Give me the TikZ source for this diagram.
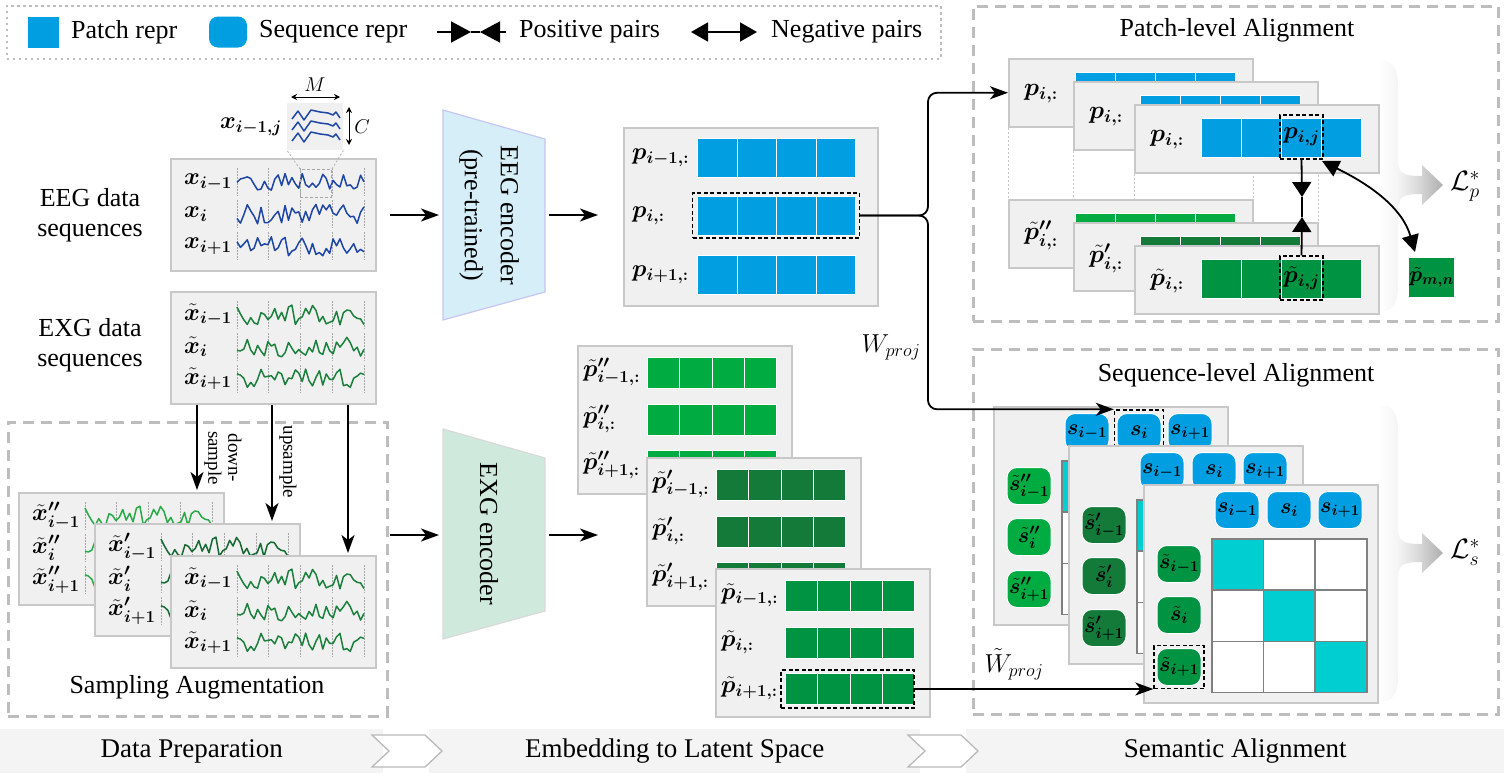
\documentclass[tikz,border=0pt]{standalone}
\usepackage{fix-cm}
\usepackage{amsmath,amssymb,bm}
\usepackage{fontspec}
\setmainfont{Liberation Serif}
\usetikzlibrary{arrows.meta,calc,shapes.geometric}
\pgfdeclarelayer{background}
\pgfsetlayers{background,main}

\definecolor{boxfill}{HTML}{F0F0F0}
\definecolor{boxedge}{HTML}{C8C8C8}
\definecolor{pblue}{RGB}{1,158,226}
\definecolor{gA}{RGB}{0,171,66}
\definecolor{gB}{RGB}{19,122,58}
\definecolor{gC}{RGB}{0,148,66}
\definecolor{wblue}{RGB}{30,70,165}
\definecolor{wgA}{RGB}{40,170,70}
\definecolor{wgB}{RGB}{20,105,50}
\definecolor{wgC}{RGB}{26,128,60}
\definecolor{cyanc}{RGB}{0,206,209}
\definecolor{regc}{HTML}{BDBDBD}
\definecolor{eegfill}{HTML}{D6EEF8}
\definecolor{eegedge}{HTML}{C6C6F2}
\definecolor{exgfill}{HTML}{CFEADD}
\definecolor{exgedge}{HTML}{D9D9D9}
\definecolor{barfill}{HTML}{F4F4F4}

\pgfdeclarehorizontalshading{gradsh}{100bp}{color(0bp)=(white); color(25bp)=(white); color(40bp)=(black!4); color(55bp)=(black!14); color(75bp)=(black!32); color(100bp)=(black!32)}

\tikzset{
  gbox/.style={draw=boxedge, fill=boxfill, line width=1.5pt, inner sep=0pt, anchor=north west},
  cellbox/.style={fill=#1, draw=white, line width=1pt, inner sep=0pt, anchor=north west},
  dbox/.style={draw=black, dash pattern=on 4pt off 2.5pt, line width=1.4pt, inner sep=0pt},
  region/.style={draw=regc, line width=2.5pt, dash pattern=on 11pt off 7pt, inner sep=0pt, anchor=north west},
  legendbox/.style={draw=regc, line width=1.5pt, dash pattern=on 2.5pt off 3.5pt, inner sep=0pt, anchor=north west},
  arr/.style={line width=1.8pt, -{Stealth[length=18pt,width=13pt,inset=5pt]}},
  lbl/.style={anchor=west, inner sep=0pt, font=\fontsize{24}{28}\selectfont},
  badge/.style={fill=#1, draw=white, line width=1pt, rounded corners=10pt, minimum width=44pt, minimum height=37pt, inner sep=0pt, font=\fontsize{21.5}{24}\selectfont},
  gcell/.style={draw=gray, line width=1.5pt, minimum width=51.67pt, minimum height=51.33pt, inner sep=0pt, anchor=north west},
  wave/.style={line width=1.5pt, line join=round},
  rtick/.style={draw=gray!70, line width=0.7pt, dash pattern=on 1.5pt off 1.5pt},
  tri/.style={line width=1.8pt, -{Triangle[length=15pt,width=19pt]}},
  dotl/.style={draw=gray!45, line width=1pt, dash pattern=on 2pt off 2pt},
}

\newcommand{\wavy}[6]{%
  \pgfmathsetseed{#6}%
  \pgfmathsetmacro\wva{#1}\pgfmathsetmacro\wvb{#2}\pgfmathsetmacro\wvy{#3}%
  \draw[wave,#5] plot[domain=\wva:\wvb,samples=38] (\x,{\wvy+#4*rand});%
}
\newcommand{\rowticks}[3]{%
  \foreach \k in {0,...,4}{%
    \draw[rtick] ({(#1)+\k*((#2)-(#1))/4},{(#3)-14}) -- ({(#1)+\k*((#2)-(#1))/4},{(#3)+14});}%
}
\newcommand{\sigbox}[8]{%
  \node[gbox, minimum width=205pt, minimum height=112pt] (#1) at (#2,#3) {};
  \node[lbl] (#1-a) at ({#2+14},{#3+24}) {$#4$};
  \node[lbl] (#1-b) at ({#2+14},{#3+56}) {$#5$};
  \node[lbl] (#1-c) at ({#2+14},{#3+88}) {$#6$};
  \rowticks{#2+67}{#2+194}{#3+24}
  \rowticks{#2+67}{#2+194}{#3+56}
  \rowticks{#2+67}{#2+194}{#3+88}
  \wavy{#2+67}{#2+194}{#3+24}{10}{#7}{#8}
  \wavy{#2+67}{#2+194}{#3+56}{10}{#7}{\the\numexpr#8+1\relax}
  \wavy{#2+67}{#2+194}{#3+88}{10}{#7}{\the\numexpr#8+2\relax}
}
\newcommand{\cellrow}[6]{%
  \foreach \j in {0,1,2,3}{%
    \node[cellbox=#6, minimum width=#4pt, minimum height=#5pt] (#1-\j) at ({#2+\j*#4},{#3}) {};}%
}
\newcommand{\tpbox}[7]{%
  \node[gbox, minimum width=214pt, minimum height=148pt] (#1) at (#2,#3) {};
  \cellrow{#1-r1}{#2+70}{#3+12}{32.25}{30.5}{#7}
  \cellrow{#1-r2}{#2+70}{#3+59}{32.25}{30.5}{#7}
  \cellrow{#1-r3}{#2+70}{#3+105}{32.25}{30.5}{#7}
  \node[lbl] (#1-a) at ({#2+6},{#3+27}) {$#4$};
  \node[lbl] (#1-b) at ({#2+6},{#3+74}) {$#5$};
  \node[lbl] (#1-c) at ({#2+6},{#3+120}) {$#6$};
}
\newcommand{\patchbox}[5]{%
  \node[gbox, minimum width=244pt, minimum height=68pt] (#1) at (#2,#3) {};
  \cellrow{#1-c}{#2+67}{#3+14}{40}{39}{#5}
  \node[lbl, font=\fontsize{25}{28}\selectfont] (#1-l) at ({#2+16},{#3+36}) {$#4$};
}
\newcommand{\simbox}[7]{%
  \node[gbox, minimum width=234pt, minimum height=218pt] (#1) at (#2,#3) {};
  \node[badge=pblue] (#1-s1) at ({#2+94},{#3+26}) {$\bm{s_{i-1}}$};
  \node[badge=pblue] (#1-s2) at ({#2+146},{#3+26}) {$\bm{s_{i}}$};
  \node[badge=pblue] (#1-s3) at ({#2+197},{#3+26}) {$\bm{s_{i+1}}$};
  \foreach \rr in {0,1,2}{\foreach \cc in {0,1,2}{%
    \ifnum\rr=\cc\relax\def\cfill{cyanc}\else\def\cfill{white}\fi
    \node[gcell, fill=\cfill] (#1-g\rr\cc) at ({#2+68+\cc*51.67},{#3+54+\rr*51.33}) {};}}
  \node[badge=#4] (#1-t1) at ({#2+36},{#3+80}) {$#5$};
  \node[badge=#4] (#1-t2) at ({#2+36},{#3+131}) {$#6$};
  \node[badge=#4] (#1-t3) at ({#2+36},{#3+183}) {$#7$};
}
\newcommand{\gradarrow}[4]{%
  \path[shading=gradsh]
   (#1,#2) .. controls ({#1+14},{#2}) and ({#1+20},{#2+6}) .. ({#1+20},{#2+26})
   -- ({#1+20},{#4-26}) .. controls ({#1+20},{#4-12}) and ({#1+24},{#4-9}) .. ({#1+44},{#4-9})
   -- ({#1+44},{#4-20}) -- ({#1+65},{#4}) -- ({#1+44},{#4+20}) -- ({#1+44},{#4+9})
   .. controls ({#1+24},{#4+9}) and ({#1+20},{#4+12}) .. ({#1+20},{#4+26})
   -- ({#1+20},{#3-26}) .. controls ({#1+20},{#3-6}) and ({#1+14},{#3}) .. (#1,#3) -- cycle;%
}

\begin{document}
\begin{tikzpicture}[x=1pt,y=-1pt,font=\fontsize{26}{34}\selectfont]
\useasboundingbox (0,0) rectangle (1504,779);

% ---------- regions ----------
\node[region, minimum width=525pt, minimum height=315pt] (preg) at (972,5) {};
\node[region, minimum width=525pt, minimum height=365pt] (sreg) at (972,348) {};
\node[region, minimum width=379pt, minimum height=294pt] (areg) at (7,421) {};
\node[legendbox, minimum width=934pt, minimum height=53pt] (legend) at (6,5) {};

% ---------- legend ----------
\node[fill=pblue, minimum size=31pt, inner sep=0pt] (lgpatch) at (43,32) {};
\node[anchor=west, inner sep=0pt] (lgpatcht) at (71,32) {Patch repr};
\node[fill=pblue, rounded corners=9pt, minimum width=38pt, minimum height=31pt, inner sep=0pt] (lgseq) at (228,32) {};
\node[anchor=west, inner sep=0pt] (lgseqt) at (259,32) {Sequence repr};
\coordinate (lgp1) at (437,32); \coordinate (lgp2) at (471,32);
\coordinate (lgp3) at (480,32); \coordinate (lgp4) at (506,32);
\draw[line width=1.6pt, -{Triangle[length=20pt,width=21pt]}] (lgp1) -- (lgp2);
\draw[line width=1.6pt, -{Triangle[length=20pt,width=21pt]}] (lgp4) -- (lgp3);
\draw[line width=1.6pt] (lgp2) -- (lgp3);
\node[anchor=west, inner sep=0pt] (lgpost) at (519,32) {Positive pairs};
\coordinate (lgn1) at (691,32); \coordinate (lgn2) at (757,32);
\draw[line width=1.6pt, {Triangle[length=17pt,width=19pt]}-{Triangle[length=17pt,width=19pt]}] (lgn1) -- (lgn2);
\node[anchor=west, inner sep=0pt] (lgnegt) at (771,32) {Negative pairs};

% ---------- data preparation ----------
\node[align=center, font=\fontsize{26}{30}\selectfont] (eegt) at (90,215) {EEG data\\sequences};
\node[align=center, font=\fontsize{26}{30}\selectfont] (exgt) at (90,345) {EXG data\\sequences};

\sigbox{eeg}{170}{158}{\bm{x_{i-1}}}{\bm{x_{i}}}{\bm{x_{i+1}}}{wblue}{11}

% zoom inset
\node[fill=boxfill, minimum width=56pt, minimum height=47pt, inner sep=0pt, anchor=north west] (inset) at (287,103) {};
\foreach \yy in {116,127,138}{
  \draw[wave, wblue] (292,\yy+3) -- (298,\yy-5) -- (304,\yy+4) -- (311,\yy-6) -- (320,\yy-4) -- (328,\yy-3) -- (333,\yy-1) -- (336,\yy-4) -- (340,\yy+2);
}
\node[draw=gray!70, dash pattern=on 3pt off 2pt, line width=0.9pt, minimum width=31pt, minimum height=28pt, inner sep=0pt, anchor=north west] (zoomr) at (300,169) {};
\draw[gray!60, line width=0.8pt, dash pattern=on 2pt off 2pt] (zoomr.north west) -- (inset.south west);
\draw[gray!60, line width=0.8pt, dash pattern=on 2pt off 2pt] (zoomr.north east) -- (inset.south east);
\coordinate (mA) at (291,97); \coordinate (mB) at (340,97);
\draw[line width=0.9pt, {Stealth[length=6pt,width=6pt]}-{Stealth[length=6pt,width=6pt]}] (mA) -- (mB);
\node[font=\fontsize{20}{22}\selectfont] (mlab) at (315,85) {$M$};
\coordinate (cA) at (349,107); \coordinate (cB) at (349,145);
\draw[line width=0.9pt, {Stealth[length=6pt,width=6pt]}-{Stealth[length=6pt,width=6pt]}] (cA) -- (cB);
\node[font=\fontsize{20}{22}\selectfont] (clab) at (362,127) {$C$};
\node[font=\fontsize{24}{28}\selectfont] (xlab) at (251,127) {$\bm{x_{i-1,j}}$};

\sigbox{exg}{170}{291}{\bm{\tilde{x}_{i-1}}}{\bm{\tilde{x}_{i}}}{\bm{\tilde{x}_{i+1}}}{wgC}{21}

% augmentation
\sigbox{aug1}{18}{492}{\bm{\tilde{x}''_{i-1}}}{\bm{\tilde{x}''_{i}}}{\bm{\tilde{x}''_{i+1}}}{wgA}{21}
\sigbox{aug2}{94}{523}{\bm{\tilde{x}'_{i-1}}}{\bm{\tilde{x}'_{i}}}{\bm{\tilde{x}'_{i+1}}}{wgB}{21}
\sigbox{aug3}{170}{555}{\bm{\tilde{x}_{i-1}}}{\bm{\tilde{x}_{i}}}{\bm{\tilde{x}_{i+1}}}{wgC}{21}
\coordinate (d1) at (197,490); \coordinate (d2) at (272,521); \coordinate (d3) at (348,553);
\draw[arr] (exg.south -| d1) -- (d1);
\draw[arr] (exg.south -| d2) -- (d2);
\draw[arr] (exg.south -| d3) -- (d3);
\node[rotate=-90, align=center, font=\fontsize{19}{20}\selectfont] (dslab) at (223,458) {down-\\sample};
\node[rotate=-90, font=\fontsize{19}{20}\selectfont] (uslab) at (288,462) {upsample};
\node (augt) at (197,687) {Sampling Augmentation};

% ---------- encoders ----------
\draw[fill=eegfill, draw=eegedge, line width=1.2pt] (443,110) -- (545,139) -- (545,292) -- (443,320) -- cycle;
\node[rotate=-90, align=center, font=\fontsize{26}{36}\selectfont] (eegenc) at (489,215) {EEG encoder\\(pre-trained)};
\draw[fill=exgfill, draw=exgedge, line width=1.2pt] (443,429) -- (545,458) -- (545,611) -- (443,639) -- cycle;
\node[rotate=-90] (exgenc) at (489,534) {EXG encoder};
\coordinate (e1a) at (390,215); \coordinate (e1b) at (439,215);
\coordinate (e2a) at (549,215); \coordinate (e2b) at (598,215);
\coordinate (e3a) at (390,535); \coordinate (e3b) at (439,535);
\coordinate (e4a) at (549,535); \coordinate (e4b) at (598,535);
\draw[arr] (e1a) -- (e1b); \draw[arr] (e2a) -- (e2b);
\draw[arr] (e3a) -- (e3b); \draw[arr] (e4a) -- (e4b);

% ---------- latent embeddings ----------
\node[gbox, minimum width=254pt, minimum height=178pt] (pbox) at (623,127) {};
\cellrow{pr1}{697}{138}{39.5}{39}{pblue}
\cellrow{pr2}{697}{196}{39.5}{39}{pblue}
\cellrow{pr3}{697}{255}{39.5}{39}{pblue}
\node[lbl] (pl1) at (632,157.5) {$\bm{p_{i-1,:}}$};
\node[lbl] (pl2) at (632,215.5) {$\bm{p_{i,:}}$};
\node[lbl] (pl3) at (632,274.5) {$\bm{p_{i+1,:}}$};
\node[dbox, minimum width=167pt, minimum height=45pt] (pdash) at (776,215.5) {};

\tpbox{tpA}{577}{345}{\bm{\tilde{p}''_{i-1,:}}}{\bm{\tilde{p}''_{i,:}}}{\bm{\tilde{p}''_{i+1,:}}}{gA}
\tpbox{tpB}{646}{457}{\bm{\tilde{p}'_{i-1,:}}}{\bm{\tilde{p}'_{i,:}}}{\bm{\tilde{p}'_{i+1,:}}}{gB}
\tpbox{tpC}{715}{568}{\bm{\tilde{p}_{i-1,:}}}{\bm{\tilde{p}_{i,:}}}{\bm{\tilde{p}_{i+1,:}}}{gC}
\node[dbox, minimum width=133pt, minimum height=38pt] (tprow) at (847.5,689) {};

% ---------- gradient "loss" arrows (behind) ----------
\gradarrow{1378}{60}{312}{185}
\gradarrow{1378}{405}{702}{553}

% ---------- patch-level alignment ----------
\node (ptitle) at (1237,30) {Patch-level Alignment};
\patchbox{P1}{1008}{58}{\bm{p_{i,:}}}{pblue}
\patchbox{P2}{1073}{81}{\bm{p_{i,:}}}{pblue}
\patchbox{P3}{1134}{104}{\bm{p_{i,:}}}{pblue}
\patchbox{T1}{1008}{199}{\bm{\tilde{p}''_{i,:}}}{gA}
\patchbox{T2}{1073}{222}{\bm{\tilde{p}'_{i,:}}}{gB}
\patchbox{T3}{1134}{245}{\bm{\tilde{p}_{i,:}}}{gC}
\begin{pgfonlayer}{background}
\foreach \k in {1,2,3}{
  \draw[dotl] (P\k.south west) -- (T\k.north west);
  \draw[dotl] (P\k.south east) -- (T\k.north east);
}
\end{pgfonlayer}
\node[dbox, minimum width=43pt, minimum height=44pt, font=\fontsize{24}{28}\selectfont] (pij) at (1301.5,137) {$\bm{p_{i,j}}$};
\node[dbox, minimum width=43pt, minimum height=44pt, font=\fontsize{24}{28}\selectfont] (tpij) at (1301.5,278) {$\bm{\tilde{p}_{i,j}}$};
\node[fill=gC, minimum size=39pt, inner sep=0pt, font=\fontsize{21.5}{24}\selectfont] (pmn) at (1431.5,277.5) {$\bm{\tilde{p}_{m,n}}$};
\coordinate (pos1) at (1302,197); \coordinate (pos2) at (1302,217);
\draw[tri] (pij.south) -- (pos1);
\draw[tri] (tpij.north) -- (pos2);
\draw[line width=1.8pt] (pos1) -- (pos2);
\coordinate (negA) at (1322,161); \coordinate (negB) at (1415,252);
\draw[line width=1.8pt, {Triangle[length=17pt,width=17pt]}-{Triangle[length=17pt,width=17pt]}] (negA) .. controls (1352,176) and (1400,200) .. (negB);
\node[font=\fontsize{28}{30}\selectfont] (lp) at (1465,186) {$\mathcal{L}_p^*$};

% ---------- sequence-level alignment ----------
\node (stitle) at (1236,375) {Sequence-level Alignment};
\simbox{M1}{993}{406}{gA}{\bm{\tilde{s}''_{i-1}}}{\bm{\tilde{s}''_{i}}}{\bm{\tilde{s}''_{i+1}}}
\node[dbox, minimum width=49pt, minimum height=44pt] (sdash) at (M1-s2) {};
\simbox{M2}{1068}{445}{gB}{\bm{\tilde{s}'_{i-1}}}{\bm{\tilde{s}'_{i}}}{\bm{\tilde{s}'_{i+1}}}
\simbox{M3}{1143}{484}{gC}{\bm{\tilde{s}_{i-1}}}{\bm{\tilde{s}_{i}}}{\bm{\tilde{s}_{i+1}}}
\node[dbox, minimum width=50pt, minimum height=43pt] (stdash) at (M3-t3) {};
\node[font=\fontsize{28}{30}\selectfont] (ls) at (1465,552) {$\mathcal{L}_s^*$};

% ---------- projection connectors ----------
\coordinate (brx) at (928,0);
\draw[arr, rounded corners=9pt] (pdash.east) -- (pdash.east -| brx) -- (brx |- P1.west) -- (P1.west);
\draw[arr, rounded corners=9pt] (pdash.east) -- (pdash.east -| brx) -- (brx |- sdash.north west) -- (sdash.north west);
\node (wproj) at (891,347) {$W_{proj}$};
\draw[arr] (tprow.east) -- (tprow.east -| stdash.west);
\node (wtproj) at (1014,664) {$\tilde{W}_{proj}$};

% ---------- bottom bar ----------
\node[fill=barfill, minimum width=383pt, minimum height=44pt, inner sep=0pt, anchor=north west] (bar1) at (0,729) {};
\node[fill=barfill, minimum width=491pt, minimum height=44pt, inner sep=0pt, anchor=north west] (bar2) at (429,729) {};
\node[fill=barfill, minimum width=538pt, minimum height=44pt, inner sep=0pt, anchor=north west] (bar3) at (966,729) {};
\draw[fill=white, draw=gray!55, line width=1.3pt] (372,735) -- (425,735) -- (442,751) -- (425,767) -- (372,767) -- (389,751) -- cycle;
\draw[fill=white, draw=gray!55, line width=1.3pt] (908,735) -- (961,735) -- (978,751) -- (961,767) -- (908,767) -- (925,751) -- cycle;
\node[font=\fontsize{27}{30}\selectfont] (bar1t) at (bar1) {Data Preparation};
\node[font=\fontsize{27}{30}\selectfont] (bar2t) at (bar2) {Embedding to Latent Space};
\node[font=\fontsize{27}{30}\selectfont] (bar3t) at (bar3) {Semantic Alignment};
\end{tikzpicture}
\end{document}
